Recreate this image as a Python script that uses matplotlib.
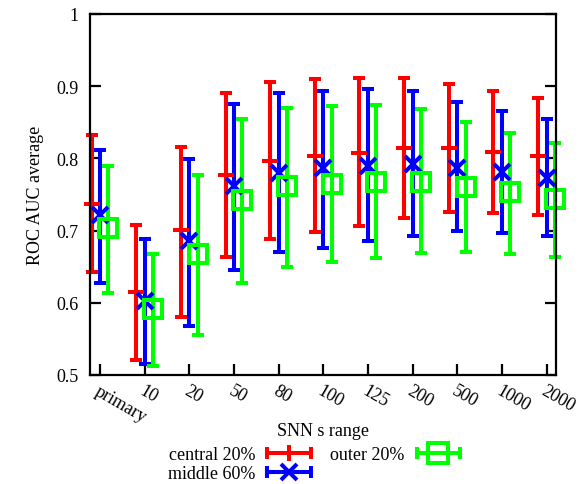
import matplotlib
matplotlib.use("Agg")
import matplotlib.pyplot as plt
import matplotlib.transforms as mtransforms
from matplotlib.lines import Line2D
from matplotlib.legend_handler import HandlerLine2D, HandlerTuple
import numpy as np

plt.rcParams['font.family'] = ['Liberation Serif', 'DejaVu Serif']
plt.rcParams['font.size'] = 13

# SNN s range categories
labels = ['primary', '10', '20', '50', '80', '100', '125', '200', '500', '1000', '2000']

# central 20%
central_mean = [0.737, 0.615, 0.701, 0.777, 0.797, 0.803, 0.808, 0.814, 0.814, 0.809, 0.803]
central_lo = [0.643, 0.521, 0.581, 0.663, 0.688, 0.698, 0.707, 0.717, 0.726, 0.725, 0.721]
central_hi = [0.832, 0.708, 0.816, 0.890, 0.906, 0.910, 0.912, 0.912, 0.903, 0.894, 0.883]

# middle 60%
middle_mean = [0.722, 0.603, 0.686, 0.762, 0.780, 0.787, 0.789, 0.792, 0.787, 0.781, 0.773]
middle_lo = [0.627, 0.515, 0.568, 0.645, 0.670, 0.676, 0.685, 0.692, 0.699, 0.696, 0.693]
middle_hi = [0.812, 0.688, 0.799, 0.876, 0.890, 0.893, 0.896, 0.893, 0.878, 0.866, 0.855]

# outer 20%
outer_mean = [0.703, 0.592, 0.667, 0.743, 0.762, 0.765, 0.768, 0.768, 0.761, 0.753, 0.744]
outer_lo = [0.613, 0.513, 0.555, 0.627, 0.650, 0.656, 0.662, 0.669, 0.671, 0.668, 0.663]
outer_hi = [0.790, 0.668, 0.777, 0.855, 0.870, 0.873, 0.874, 0.869, 0.850, 0.835, 0.822]

red, blue, green = '#ff0000', '#0000ff', '#00ff00'
lw = 2.9

fig = plt.figure(figsize=(5.87, 4.85), dpi=100)
ax = fig.add_axes([90 / 587, 1 - 376 / 485, 466 / 587, 361 / 485])

x = np.arange(len(labels))
series = [
    (central_mean, central_lo, central_hi, red, '+', 11, -0.19),
    (middle_mean, middle_lo, middle_hi, blue, 'x', 11, 0.0),
    (outer_mean, outer_lo, outer_hi, green, 's', 13, 0.19),
]
for mean, lo, hi, col, mk, ms, off in series:
    mean = np.array(mean)
    yerr = [mean - np.array(lo), np.array(hi) - mean]
    eb = ax.errorbar(x + off, mean, yerr=yerr, fmt=mk, color=col, ms=ms, mfc='none',
                     mew=lw, elinewidth=lw, capsize=4, capthick=lw)
    for art in eb.get_children():
        art.set_clip_on(False)

ax.set_xlim(-0.224, 10.21)
ax.set_ylim(0.5, 1.0)
ax.set_yticks([0.5, 0.6, 0.7, 0.8, 0.9, 1.0])
ax.set_yticklabels(['0.5', '0.6', '0.7', '0.8', '0.9', '1'])
ax.set_xticks(x)
ax.set_xticklabels(labels, rotation=-30, ha='left', va='top', rotation_mode='anchor')
shift = mtransforms.ScaledTranslation(-6 / 72, 0, fig.dpi_scale_trans)
for lab in ax.get_xticklabels():
    lab.set_transform(lab.get_transform() + shift)

ax.tick_params(direction='in', length=8, width=1.6, top=False, right=True)
ax.tick_params(axis='x', pad=5)
ax.tick_params(axis='y', pad=8)
for s in ax.spines.values():
    s.set_linewidth(1.6)

ax.set_ylabel('ROC AUC average')
ax.yaxis.set_label_coords(-0.118, 0.5)
ax.yaxis.label.set_va('center')
ax.set_xlabel('SNN s range')
ax.xaxis.set_label_coords(0.5, -0.155)
ax.xaxis.label.set_va('center')

# gnuplot-like legend samples: horizontal bar with end caps and a centred marker
handles = []
hmap = {}
for mean, lo, hi, col, mk, ms, off in series:
    bar = Line2D([], [], color=col, lw=lw, marker='|', ms=9, mew=lw)
    pt = Line2D([], [], ls='none', color=col, marker=mk, ms=ms + 1, mfc='none', mew=lw)
    hmap[bar] = HandlerLine2D(numpoints=2, marker_pad=0)
    handles.append((bar, pt))
hmap[tuple] = HandlerTuple(ndivide=1, pad=0)

fig.legend(handles, ['central 20%', 'middle 60%', 'outer 20%'], handler_map=hmap,
           loc='upper left', bbox_to_anchor=(168 / 587, 1 - 447 / 485),
           ncol=2, frameon=False, markerfirst=False, numpoints=1,
           handlelength=2.4, handletextpad=0.66, columnspacing=1.1,
           labelspacing=0.12, borderpad=0, borderaxespad=0)

fig.savefig('out.png', dpi=100)
